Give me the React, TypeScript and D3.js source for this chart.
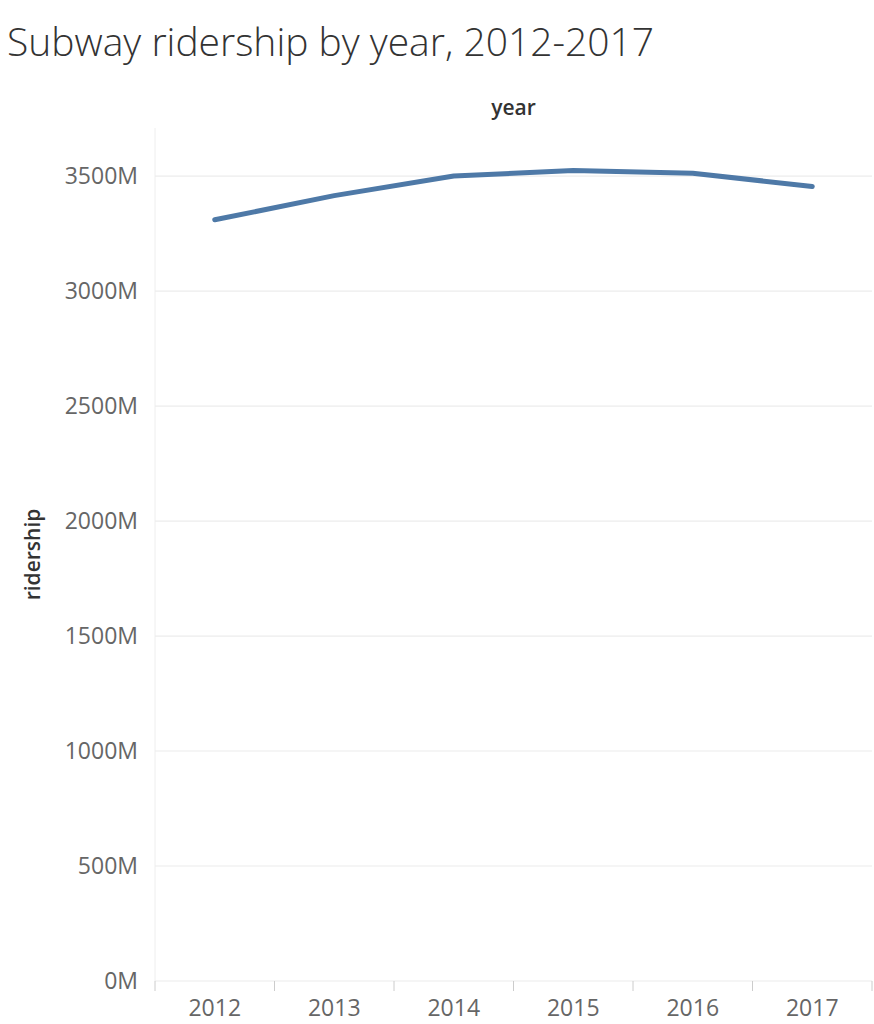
import * as d3 from "d3";

const years = ["2012", "2013", "2014", "2015", "2016", "2017"];
const ridership = [3310, 3415, 3500, 3524, 3512, 3455]; // millions
const yTicks = [0, 500, 1000, 1500, 2000, 2500, 3000, 3500];

export default function App() {
  const W = 874, H = 1024;
  const left = 155, right = 872, top = 128, bottom = 981;

  const x = d3.scaleBand<string>().domain(years).range([left, right]);
  const y = d3.scaleLinear().domain([0, 3709]).range([bottom, top]);
  const line = d3.line<number>()
    .x((_, i) => (x(years[i]) as number) + x.bandwidth() / 2)
    .y(d => y(d));

  const font = "'Open Sans', sans-serif";
  const bounds = years.map(yr => x(yr) as number).concat([right]);

  return (
    <svg width={W} height={H} style={{ position: "absolute", left: 0, top: 0, fontFamily: font }}>
      <text x={7} y={56} fontSize={39} fill="#333" fontWeight={300}>Subway ridership by year, 2012-2017</text>
      <text x={(left + right) / 2} y={115} textAnchor="middle" fontSize={21} fontWeight={600} fill="#333">year</text>

      {/* grid */}
      {yTicks.map(t => (
        <g key={t}>
          <line x1={left} x2={right} y1={y(t)} y2={y(t)} stroke="#ececec" strokeWidth={1.2} />
          <text x={138} y={y(t) + 8} textAnchor="end" fontSize={23} fill="#666">{t}M</text>
        </g>
      ))}
      <line x1={left} x2={left} y1={top} y2={bottom} stroke="#eee" />
      {bounds.map((b, i) => (
        <line key={i} x1={b} x2={b} y1={bottom} y2={bottom + 10} stroke="#ccc" />
      ))}
      {years.map(yr => (
        <text key={yr} x={(x(yr) as number) + x.bandwidth() / 2} y={1016} textAnchor="middle" fontSize={23} fill="#666">{yr}</text>
      ))}

      <text transform={`translate(40,${(top + bottom) / 2}) rotate(-90)`} textAnchor="middle" fontSize={21} fontWeight={600} fill="#333">ridership</text>

      <path d={line(ridership) as string} fill="none" stroke="#4e79a7" strokeWidth={5} strokeLinecap="round" strokeLinejoin="round" />
    </svg>
  );
}
